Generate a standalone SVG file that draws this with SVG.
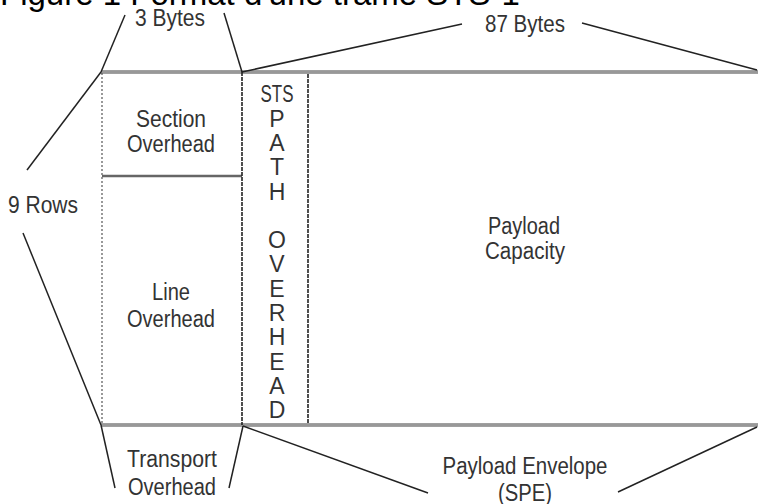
<svg xmlns="http://www.w3.org/2000/svg" width="758" height="504" viewBox="0 0 758 504">
<style>
  .t { font-family: "Liberation Sans", Arial, sans-serif; font-size: 23px; fill: #333; text-anchor: middle; }
  .title { font-family: "Liberation Sans", Arial, sans-serif; font-size: 33px; fill: #000; }
  .band { stroke: #808080; stroke-width: 3.5; fill: none; }
  .bandc { stroke: #b0b0b0; stroke-width: 1; fill: none; }
  .vdark { stroke: #222; stroke-width: 1.6; fill: none; stroke-dasharray: 4 1; }
  .vlight { stroke: #555; stroke-width: 1.2; fill: none; stroke-dasharray: 2 2; }
  .hdiv { stroke: #666; stroke-width: 2.5; fill: none; }
  .br { stroke: #222; stroke-width: 1.5; fill: none; }
</style>
<rect width="758" height="504" fill="#fff"/>
<text class="title" x="0" y="5">Figure 1 Format d'une trame STS-1</text>

<g id="frame-outline">
  <line class="band" x1="101" y1="72" x2="758" y2="72"/>
  <line class="bandc" x1="101" y1="72" x2="758" y2="72"/>
  <line class="band" x1="101" y1="425" x2="758" y2="425"/>
  <line class="bandc" x1="101" y1="425" x2="758" y2="425"/>
</g>

<g id="section-overhead">
  <line class="vlight" x1="102" y1="73" x2="102" y2="424"/>
  <line class="hdiv" x1="102" y1="176" x2="242" y2="176"/>
  <text class="t" x="171" y="127" textLength="70" lengthAdjust="spacingAndGlyphs">Section</text>
  <text class="t" x="171" y="152" textLength="88" lengthAdjust="spacingAndGlyphs">Overhead</text>
</g>

<g id="line-overhead">
  <text class="t" x="171" y="300" textLength="38" lengthAdjust="spacingAndGlyphs">Line</text>
  <text class="t" x="171" y="327" textLength="88" lengthAdjust="spacingAndGlyphs">Overhead</text>
</g>

<g id="sts-path-overhead">
  <line class="vdark" x1="242" y1="72" x2="242" y2="425"/>
  <line class="vdark" x1="308" y1="74" x2="308" y2="424"/>
  <text class="t" x="277" y="102" textLength="33" lengthAdjust="spacingAndGlyphs">STS</text>
  <text class="t" x="277" y="127">P</text>
  <text class="t" x="277" y="151">A</text>
  <text class="t" x="277" y="175">T</text>
  <text class="t" x="277" y="200">H</text>
  <text class="t" x="277" y="248">O</text>
  <text class="t" x="277" y="272">V</text>
  <text class="t" x="277" y="297">E</text>
  <text class="t" x="277" y="321">R</text>
  <text class="t" x="277" y="345">H</text>
  <text class="t" x="277" y="370">E</text>
  <text class="t" x="277" y="394">A</text>
  <text class="t" x="277" y="418">D</text>
</g>

<g id="payload-capacity">
  <text class="t" x="524" y="234" textLength="72" lengthAdjust="spacingAndGlyphs">Payload</text>
  <text class="t" x="525" y="259" textLength="80" lengthAdjust="spacingAndGlyphs">Capacity</text>
</g>

<g id="connectors">
  <line class="br" x1="101" y1="72" x2="125" y2="15"/>
  <line class="br" x1="242" y1="72" x2="224" y2="13"/>
  <line class="br" x1="242" y1="72" x2="462" y2="24"/>
  <line class="br" x1="582" y1="23" x2="757" y2="70"/>
  <line class="br" x1="101" y1="72" x2="27" y2="170"/>
  <line class="br" x1="23" y1="233" x2="101" y2="425"/>
  <line class="br" x1="101" y1="425" x2="115" y2="488"/>
  <line class="br" x1="243" y1="426" x2="229" y2="488"/>
  <line class="br" x1="243" y1="426" x2="428" y2="493"/>
  <line class="br" x1="757" y1="427" x2="618" y2="492"/>
</g>

<g id="label-3-bytes">
  <text class="t" x="170" y="26" textLength="70" lengthAdjust="spacingAndGlyphs">3 Bytes</text>
</g>
<g id="label-87-bytes">
  <text class="t" x="525" y="32" textLength="80" lengthAdjust="spacingAndGlyphs">87 Bytes</text>
</g>
<g id="label-9-rows">
  <text class="t" x="43" y="213" textLength="70" lengthAdjust="spacingAndGlyphs">9 Rows</text>
</g>
<g id="label-transport-overhead">
  <text class="t" x="172" y="467" textLength="90" lengthAdjust="spacingAndGlyphs">Transport</text>
  <text class="t" x="172" y="495" textLength="88" lengthAdjust="spacingAndGlyphs">Overhead</text>
</g>
<g id="label-spe">
  <text class="t" x="525" y="474" textLength="165" lengthAdjust="spacingAndGlyphs">Payload Envelope</text>
  <text class="t" x="525" y="501" textLength="54" lengthAdjust="spacingAndGlyphs">(SPE)</text>
</g>
</svg>
